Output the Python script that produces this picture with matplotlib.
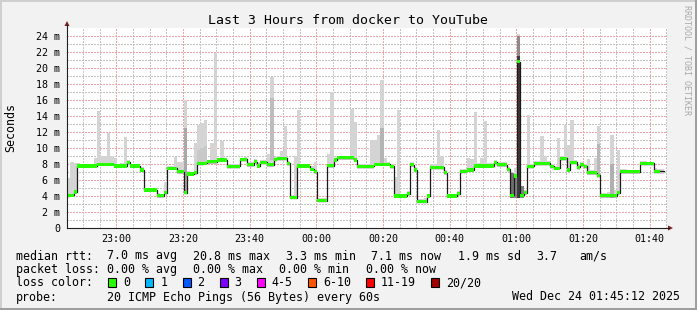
import numpy as np
import matplotlib.pyplot as plt
from matplotlib.patches import Rectangle, Polygon
from matplotlib.lines import Line2D
from datetime import datetime, timedelta

plt.rcParams['font.family'] = ['DejaVu Sans Mono']
plt.rcParams['lines.scale_dashes'] = False

# window of the graph: last 3 hours, one value per minute
end_time = datetime(2025, 12, 24, 1, 45, 12)
start_time = end_time - timedelta(hours=3)

# median rtt per minute (ms)
median_ms = [
    4.1, 4.1, 4.5, 7.75, 7.75, 7.75, 7.75, 7.75, 7.75, 7.95,
    7.95, 7.95, 7.95, 7.95, 7.75, 7.75, 7.75, 7.75, 8.2, 7.75,
    7.75, 7.75, 7.25, 4.75, 4.75, 4.75, 4.75, 4.05, 4.05, 4.4,
    7.45, 7.45, 7.45, 7.05, 7.05, 4.4, 6.75, 6.75, 6.9, 8.1,
    8.1, 8.1, 8.3, 8.3, 8.3, 8.5, 8.5, 8.5, 7.7, 7.7,
    7.7, 7.7, 8.6, 8.6, 7.9, 7.9, 8.3, 7.75, 8.2, 8.2,
    7.9, 7.9, 8.6, 8.7, 8.7, 8.7, 8.1, 3.8, 3.8, 7.75,
    7.75, 7.75, 7.75, 7.35, 7.05, 3.4, 3.4, 3.4, 7.8, 7.8,
    8.5, 8.8, 8.8, 8.8, 8.8, 8.8, 8.5, 7.7, 7.7, 7.7,
    7.7, 7.7, 7.95, 7.95, 7.95, 7.95, 7.95, 7.7, 4.0, 4.0,
    4.0, 4.0, 4.3, 7.9, 7.25, 3.3, 3.3, 3.3, 4.0, 7.6,
    7.6, 7.6, 7.6, 6.9, 4.0, 4.0, 4.0, 4.3, 7.1, 7.1,
    7.25, 7.25, 7.75, 7.75, 7.75, 7.75, 7.75, 7.75, 8.2, 7.9,
    7.9, 7.9, 7.35, 4.1, 6.5, 20.8, 4.1, 4.4, 7.7, 7.7,
    8.1, 8.1, 8.1, 8.1, 8.1, 7.7, 7.45, 7.45, 8.7, 8.7,
    7.25, 8.2, 8.2, 7.6, 7.9, 7.7, 6.9, 6.9, 6.9, 6.6,
    4.05, 4.05, 4.05, 4.05, 4.05, 4.4, 7.05, 7.05, 7.05, 7.05,
    7.05, 7.05, 8.1, 8.1, 8.1, 8.1, 7.1, 7.1, 7.1, np.nan,
]

# fastest ping per minute (ms)
smoke_lo = [
    3.8, 3.9, 4.3, 7.5, 7.5, 7.5, 7.5, 7.5, 7.5, 7.7,
    7.7, 7.7, 7.7, 7.7, 7.5, 7.5, 7.5, 7.5, 7.9, 7.5,
    7.5, 7.5, 7.0, 4.5, 4.5, 4.6, 4.6, 3.8, 3.8, 4.2,
    7.2, 7.2, 7.2, 6.8, 6.8, 4.2, 6.5, 6.5, 6.6, 7.8,
    7.8, 7.9, 8.0, 8.0, 8.0, 8.2, 8.2, 8.2, 7.4, 7.4,
    7.4, 7.4, 8.3, 8.3, 7.6, 7.6, 8.0, 7.5, 7.9, 7.9,
    7.6, 7.6, 8.3, 8.4, 8.4, 8.4, 7.8, 3.6, 3.6, 7.5,
    7.5, 7.5, 7.5, 7.1, 6.8, 3.2, 3.2, 3.2, 7.5, 7.5,
    8.2, 8.5, 8.5, 8.5, 8.5, 8.5, 8.2, 7.4, 7.4, 7.4,
    7.4, 7.4, 7.7, 7.7, 7.7, 7.7, 7.7, 7.4, 3.8, 3.8,
    3.8, 3.8, 4.0, 7.6, 7.0, 3.1, 3.1, 3.1, 3.8, 7.3,
    7.3, 7.3, 7.3, 6.6, 3.8, 3.8, 3.8, 4.0, 6.8, 6.8,
    7.0, 7.0, 7.5, 7.5, 7.5, 7.5, 7.5, 7.5, 7.9, 7.6,
    7.6, 7.6, 7.0, 3.8, 3.8, 3.8, 3.8, 4.1, 7.4, 7.4,
    7.8, 7.8, 7.8, 7.8, 7.8, 7.4, 7.2, 7.2, 8.4, 8.4,
    7.0, 7.9, 7.9, 7.3, 7.6, 7.4, 6.6, 6.6, 6.6, 6.3,
    3.7, 3.7, 3.7, 3.7, 3.7, 4.1, 6.8, 6.8, 6.8, 6.8,
    6.8, 6.8, 7.8, 7.8, 7.8, 7.8, 6.8, 6.8, 6.8, np.nan,
]

# slowest ping per minute (ms)
smoke_hi = [
    6.2, 8.2, 8.1, 8.1, 8.0, 8.0, 8.0, 8.0, 8.7, 14.6,
    9.0, 9.0, 11.9, 9.0, 8.8, 8.0, 8.1, 11.4, 8.5, 8.0,
    8.0, 8.0, 7.6, 5.0, 5.0, 5.0, 5.0, 4.4, 4.3, 5.8,
    7.7, 7.7, 8.9, 8.3, 8.3, 16.0, 7.1, 7.0, 10.6, 12.9,
    13.1, 13.5, 8.5, 10.6, 21.9, 8.8, 10.9, 8.8, 8.0, 8.0,
    8.0, 8.0, 8.8, 8.9, 8.3, 8.2, 8.6, 8.1, 8.5, 8.5,
    9.3, 18.9, 8.9, 9.0, 9.6, 12.7, 8.4, 4.1, 9.0, 14.75,
    8.0, 8.0, 8.0, 7.7, 8.2, 3.7, 3.7, 3.7, 9.3, 17.0,
    8.8, 9.0, 9.0, 9.0, 9.0, 14.9, 13.3, 8.0, 8.0, 8.0,
    8.0, 11.0, 11.0, 11.6, 18.5, 8.8, 8.2, 8.0, 6.4, 14.75,
    4.3, 4.3, 4.6, 8.2, 7.6, 3.6, 3.6, 3.7, 4.3, 8.0,
    8.0, 12.25, 9.0, 7.2, 4.3, 4.3, 4.3, 4.6, 7.4, 7.4,
    8.7, 8.6, 14.5, 8.1, 8.7, 13.4, 8.1, 8.1, 8.5, 8.2,
    8.2, 8.2, 7.6, 6.9, 7.5, 24.25, 5.2, 4.8, 14.1, 8.0,
    8.4, 8.4, 11.5, 9.0, 8.4, 8.0, 7.8, 11.2, 9.0, 12.9,
    10.4, 13.5, 8.5, 7.9, 8.2, 8.0, 8.6, 7.2, 8.7, 12.75,
    4.4, 4.4, 4.5, 11.6, 4.7, 9.75, 7.4, 7.4, 7.3, 7.3,
    7.3, 7.3, 8.4, 8.4, 8.3, 8.3, 7.5, 7.4, 7.4, np.nan,
]

# denser smoke (many pings) at a few minutes
dark_minute = [35, 39, 40, 41, 61, 94, 133, 134, 135, 135, 136, 159, 163]
dark_lo = [4.2, 8.0, 8.0, 8.0, 8.5, 8.0, 3.8, 3.8, 3.8, 21.5, 3.8, 6.5, 3.8]
dark_hi = [12.5, 9.8, 10.0, 10.2, 16.2, 12.5, 6.9, 6.6, 21.5, 24.0, 5.2, 10.5, 8.0]
dark_shade = ['#a9a9a9', '#c8c8c8', '#c8c8c8', '#c8c8c8', '#bdbdbd', '#b4b4b4',
              '#707070', '#808080', '#3c3c3c', '#8c8c8c', '#808080', '#b8b8b8', '#b0b0b0']

tick_labels = ['23:00', '23:20', '23:40', '00:00', '00:20', '00:40', '01:00', '01:20', '01:40']
ytick_vals = list(range(0, 25, 2))

loss_labels = ['0', '1', '2', '3', '4-5', '6-10', '11-19', '20/20']
loss_colors = ['#26ff00', '#00b8ff', '#0059ff', '#7e00ff', '#ff00ff', '#ff5500', '#ff0000', '#a10000']

W, H = 697, 310
fig = plt.figure(figsize=(W / 100, H / 100), dpi=100)
fig.patch.set_facecolor('#f2f2f2')


def fx(x):
    return x / W


def fy(y):
    return 1 - y / H


ax = fig.add_axes([fx(67), fy(228), 600 / W, 200 / H])
ax.set_facecolor('white')
for s in ax.spines.values():
    s.set_visible(False)

n = len(median_ms)
minute = np.arange(n)
med = np.array(median_ms, dtype=float)
lo = np.array(smoke_lo, dtype=float)
hi = np.array(smoke_hi, dtype=float)

# smoke
ax.bar(minute, hi - lo, bottom=lo, width=1.0, align='edge', color='#d4d4d4', linewidth=0, zorder=2)
ax.bar(dark_minute, np.array(dark_hi) - np.array(dark_lo), bottom=dark_lo, width=1.0,
       align='edge', color=dark_shade, linewidth=0, zorder=2.5)

# median line + loss colour band
edges = np.append(minute, n)
med_ext = np.append(med, med[-1])
ax.step(edges, med_ext, where='post', color='#1a1a1a', lw=0.9, zorder=3)
ax.fill_between(edges, med_ext - 0.19, med_ext + 0.19, step='post', color='#26ff00', lw=0, zorder=4)

ax.set_xlim(0, 180)
ax.set_ylim(0, 25)

# ticks & grid
first_tick = datetime(2025, 12, 23, 23, 0)
tick_pos = [(first_tick + timedelta(minutes=20 * k) - start_time).total_seconds() / 60
            for k in range(len(tick_labels))]
minor_x = []
for k in range(36):
    t = datetime(2025, 12, 23, 22, 50) + timedelta(minutes=5 * k)
    if t.minute % 20 != 0:
        minor_x.append((t - start_time).total_seconds() / 60)
ax.set_xticks(tick_pos)
ax.set_xticklabels(tick_labels)
ax.set_xticks(minor_x, minor=True)
ax.set_yticks(ytick_vals)
ax.set_yticklabels(['0'] + ['%d m' % v for v in ytick_vals[1:]])
ax.set_yticks(list(range(1, 25, 2)), minor=True)
ax.tick_params(which='both', length=0)
ax.tick_params(axis='y', pad=5, labelsize=7.2)
ax.tick_params(axis='x', pad=4, labelsize=7.2)
ax.grid(which='minor', color='#c4c4c4', linestyle=(0, (0.75, 0.75)), lw=0.75, zorder=1, antialiased=False)
ax.grid(which='major', color='#efa6a6', linestyle=(0, (0.75, 0.75)), lw=0.75, zorder=1, antialiased=False)
ax.set_axisbelow(True)

# axes with arrows
fig.add_artist(Line2D([fx(67), fx(67)], [fy(228), fy(25)], transform=fig.transFigure,
                      color='#1f1f1f', lw=0.8))
fig.add_artist(Line2D([fx(67), fx(669)], [fy(228), fy(228)], transform=fig.transFigure,
                      color='#1f1f1f', lw=0.8))
fig.add_artist(Polygon([[fx(64.5), fy(26)], [fx(69.5), fy(26)], [fx(67), fy(21)]],
                       closed=True, transform=fig.transFigure, color='#801f1f', lw=0))
fig.add_artist(Polygon([[fx(668), fy(225.5)], [fx(668), fy(230.5)], [fx(673), fy(228)]],
                       closed=True, transform=fig.transFigure, color='#801f1f', lw=0))

# frame
fig.add_artist(Rectangle((0, fy(2)), 1, 2 / H, transform=fig.transFigure, color='#cfcfcf', lw=0))
fig.add_artist(Rectangle((0, 0), 2 / W, 1, transform=fig.transFigure, color='#cfcfcf', lw=0))
fig.add_artist(Rectangle((fx(W - 2), 0), 2 / W, 1, transform=fig.transFigure, color='#9e9e9e', lw=0))
fig.add_artist(Rectangle((0, 0), 1, 2 / H, transform=fig.transFigure, color='#9e9e9e', lw=0))

# titles
fig.text(fx(348), fy(24), 'Last 3 Hours from docker to YouTube', ha='center', va='baseline', fontsize=9.5)
fig.text(fx(10.5), fy(128), 'Seconds', rotation=90, ha='center', va='center', fontsize=8.4)
fig.text(fx(687.5), fy(5), 'RRDTOOL / TOBI OETIKER', rotation=270, ha='center', va='top',
         fontsize=6, color='#a8a8a8')

# legend
fs = 8.4
row1 = [(16, 'median rtt:'), (107.3, '7.0 ms avg'), (193.3, '20.8 ms max'), (286, '3.3 ms min'),
        (371, '7.1 ms now'), (458.3, '1.9 ms sd'), (536.7, '3.7'), (579.3, 'am/s')]
for x, s in row1:
    fig.text(fx(x), fy(259.5), s, fontsize=fs, va='baseline')
row2 = [(16, 'packet loss:'), (107.3, '0.00 % avg'), (193.3, '0.00 % max'), (279.3, '0.00 % min'),
        (366, '0.00 % now')]
for x, s in row2:
    fig.text(fx(x), fy(273), s, fontsize=fs, va='baseline')

fig.text(fx(16), fy(286.5), 'loss color:', fontsize=fs, va='baseline')
bx = 108.3
for lab, col in zip(loss_labels, loss_colors):
    fig.add_artist(Rectangle((fx(bx), fy(286.5)), 8 / W, 9 / H, transform=fig.transFigure,
                             facecolor=col, edgecolor='black', lw=0.8))
    fig.text(fx(bx + 15), fy(286.5), lab, fontsize=fs, va='baseline')
    bx += 7 * (len(lab) + 4.3)

fig.text(fx(16), fy(300.5), 'probe:', fontsize=fs, va='baseline')
fig.text(fx(107.3), fy(300.5), '20 ICMP Echo Pings (56 Bytes) every 60s', fontsize=fs, va='baseline')
fig.text(fx(680.5), fy(300.5), end_time.strftime('%a %b %d %H:%M:%S %Y'), fontsize=fs,
         va='baseline', ha='right')

fig.savefig('out.png', dpi=100, facecolor=fig.get_facecolor())
